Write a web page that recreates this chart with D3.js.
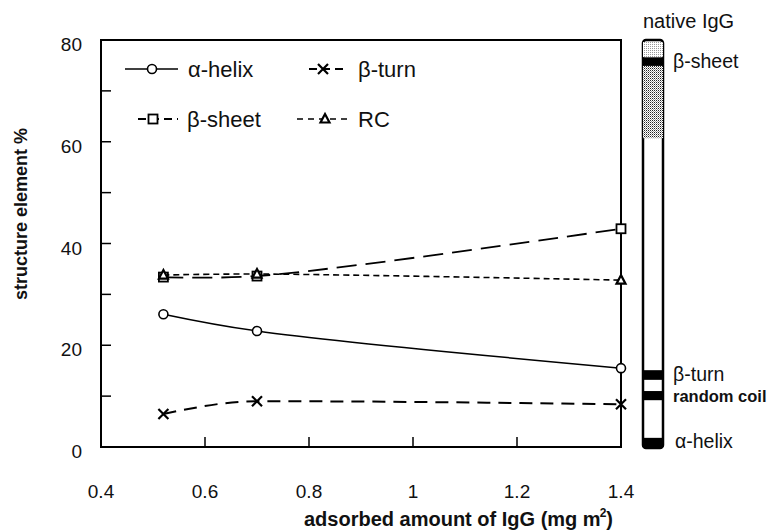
<!DOCTYPE html>
<html><head><meta charset="utf-8">
<script src="https://cdn.jsdelivr.net/npm/d3@7"></script>
<style>body{margin:0;background:#fff} svg{display:block;font-family:"Liberation Sans",Arial,sans-serif}</style>
</head><body><svg id="c" width="773" height="530"></svg>
<script>
// ---- data ----
const xValues = [0.52, 0.70, 1.40];
const alphaHelix = [26.1, 22.8, 15.5];
const betaTurn = [6.5, 9.0, 8.4];
const betaSheet = [33.4, 33.6, 42.9];
const randomCoil = [33.8, 34.0, 32.8];
const seriesNames = ["α-helix", "β-turn", "β-sheet", "RC"];
const xTicks = [0.4, 0.6, 0.8, 1, 1.2, 1.4];
const xTickLabels = ["0.4", "0.6", "0.8", "1", "1.2", "1.4"];
const yTicks = [0, 10, 20, 30, 40, 50, 60, 70, 80];
const yTickLabels = [0, 20, 40, 60, 80];
// native IgG column (same % scale)
const nativeBandNames = ["top", "β-sheet", "sheet", "β-turn", "random coil", "α-helix"];
const nativeBandFrom = [76.6, 74.9, 60.7, 13.2, 9.2, 0];
const nativeBandTo = [79.6, 76.6, 74.9, 15.1, 11.0, 1.8];
const nativeLabelNames = ["β-sheet", "β-turn", "random coil", "α-helix"];
const nativeTitle = "native IgG";
const xTitle = "adsorbed amount of IgG (mg m";
const xTitleSup = "2";
const yTitle = "structure element  %";

// ---- layout ----
const svg = d3.select("#c");
const L = 101, R = 621, T = 40, B = 447;
const x = d3.scaleLinear().domain([0.4, 1.4]).range([L, R]);
const y = d3.scaleLinear().domain([0, 80]).range([B, T]);

const defs = svg.append("defs");
const p1 = defs.append("pattern").attr("id", "stipDark").attr("width", 2).attr("height", 2).attr("patternUnits", "userSpaceOnUse");
p1.append("rect").attr("width", 2).attr("height", 2).attr("fill", "#fff");
p1.append("rect").attr("width", 1).attr("height", 1).attr("fill", "#222");
p1.append("rect").attr("x", 1).attr("y", 1).attr("width", 1).attr("height", 1).attr("fill", "#999");
const p2 = defs.append("pattern").attr("id", "stipLight").attr("width", 2).attr("height", 2).attr("patternUnits", "userSpaceOnUse");
p2.append("rect").attr("width", 2).attr("height", 2).attr("fill", "#fff");
p2.append("rect").attr("width", 1).attr("height", 1).attr("fill", "#999");

// frame
svg.append("rect").attr("x", L).attr("y", T).attr("width", R - L).attr("height", B - T)
  .attr("fill", "none").attr("stroke", "#000").attr("stroke-width", 2);

// y ticks (inward)
svg.append("g").selectAll("line").data(yTicks.filter(d => d > 0 && d < 80)).join("line")
  .attr("x1", L).attr("x2", L + 10).attr("y1", d => y(d)).attr("y2", d => y(d))
  .attr("stroke", "#000").attr("stroke-width", 1.5);
svg.append("g").selectAll("text").data(yTickLabels).join("text")
  .attr("x", 82).attr("y", d => y(d) + 11).attr("text-anchor", "end")
  .attr("font-size", 19).attr("fill", "#111").text(d => d);

// x ticks (inward)
svg.append("g").selectAll("line").data(xTicks.filter(d => d > 0.4 && d < 1.4)).join("line")
  .attr("x1", d => x(d)).attr("x2", d => x(d)).attr("y1", B).attr("y2", B - 10)
  .attr("stroke", "#000").attr("stroke-width", 1.5);
svg.append("g").selectAll("text").data(xTicks).join("text")
  .attr("x", d => x(d)).attr("y", 498).attr("text-anchor", "middle")
  .attr("font-size", 19).attr("fill", "#111").text((d, i) => xTickLabels[i]);

// axis titles
const xt = svg.append("text").attr("x", 613).attr("y", 526).attr("text-anchor", "end")
  .attr("font-size", 20).attr("font-weight", "bold").attr("fill", "#111");
xt.append("tspan").text(xTitle);
xt.append("tspan").attr("dx", -1).attr("dy", -9).attr("font-size", 12).text(xTitleSup);
xt.append("tspan").attr("dy", 9).text(")");
svg.append("text").attr("transform", "translate(27,214) rotate(-90)").attr("text-anchor", "middle")
  .attr("font-size", 18).attr("font-weight", "bold").attr("fill", "#111").text(yTitle);

// series
const series = [
  {name: seriesNames[0], vals: alphaHelix, dash: null, w: 1.5, marker: "circle", curve: d3.curveCatmullRom},
  {name: seriesNames[1], vals: betaTurn, dash: "13,8", w: 2, marker: "x", curve: d3.curveMonotoneX},
  {name: seriesNames[2], vals: betaSheet, dash: "20,9", w: 1.8, marker: "square", curve: d3.curveCatmullRom},
  {name: seriesNames[3], vals: randomCoil, dash: "6,4", w: 1.6, marker: "tri", curve: d3.curveCatmullRom}
];

function marker(g, type, cx, cy) {
  if (type === "circle") {
    g.append("circle").attr("cx", cx).attr("cy", cy).attr("r", 4.5)
      .attr("fill", "#fff").attr("stroke", "#000").attr("stroke-width", 1.6);
  } else if (type === "x") {
    g.append("path").attr("d", `M${cx-5},${cy-5}L${cx+5},${cy+5}M${cx-5},${cy+5}L${cx+5},${cy-5}`)
      .attr("stroke", "#000").attr("stroke-width", 2.2).attr("fill", "none");
  } else if (type === "square") {
    g.append("rect").attr("x", cx - 4.5).attr("y", cy - 4.5).attr("width", 9).attr("height", 9)
      .attr("fill", "#fff").attr("stroke", "#000").attr("stroke-width", 1.8);
  } else if (type === "tri") {
    g.append("path").attr("d", `M${cx},${cy-5}L${cx+4.5},${cy+3.5}L${cx-4.5},${cy+3.5}Z`)
      .attr("fill", "#fff").attr("stroke", "#000").attr("stroke-width", 2.2);
  }
}

const plot = svg.append("g");
series.forEach(s => {
  const pts = xValues.map((xv, i) => [xv, s.vals[i]]);
  plot.append("path").datum(pts)
    .attr("d", d3.line().x(d => x(d[0])).y(d => y(d[1])).curve(s.curve))
    .attr("fill", "none").attr("stroke", "#000").attr("stroke-width", s.w)
    .attr("stroke-dasharray", s.dash);
});
series.forEach(s => {
  xValues.forEach((xv, i) => marker(plot, s.marker, x(xv), y(s.vals[i])));
});

// legend
const legendPos = [
  {x1: 125, x2: 178, mx: 152, y: 69, tx: 188},
  {x1: 309, x2: 348, mx: 323, y: 69, tx: 358},
  {x1: 138, x2: 178, mx: 153, y: 119, tx: 187},
  {x1: 297, x2: 352, mx: 325, y: 119, tx: 358}
];
const lg = svg.append("g");
series.forEach((s, i) => {
  const p = legendPos[i];
  lg.append("line").attr("x1", p.x1).attr("x2", p.x2).attr("y1", p.y).attr("y2", p.y)
    .attr("stroke", "#000").attr("stroke-width", s.w)
    .attr("stroke-dasharray", s.dash ? (s.marker === "tri" ? "6,5" : "8,5") : null);
  marker(lg, s.marker, p.mx, p.y);
  lg.append("text").attr("x", p.tx).attr("y", p.y + 8).attr("font-size", 22).attr("fill", "#111").text(s.name);
});

// native IgG column
const bx = 643, bw = 20;
const col = svg.append("g");
col.append("text").attr("x", 643).attr("y", 28).attr("font-size", 20).attr("fill", "#111").text(nativeTitle);
col.append("rect").attr("x", bx).attr("y", y(80)).attr("width", bw).attr("height", y(0) - y(80) + 1)
  .attr("rx", 3).attr("fill", "#fff").attr("stroke", "#000").attr("stroke-width", 2.5);
const bandFill = n => n === "top" ? "url(#stipLight)" : n === "sheet" ? "url(#stipDark)" : "#000";
nativeBandNames.forEach((n, i) => {
  col.append("rect").attr("x", bx).attr("width", bw)
    .attr("y", y(nativeBandTo[i])).attr("height", y(nativeBandFrom[i]) - y(nativeBandTo[i]))
    .attr("fill", bandFill(n));
});
nativeLabelNames.forEach(n => {
  const i = nativeBandNames.indexOf(n);
  const cy = (y(nativeBandFrom[i]) + y(nativeBandTo[i])) / 2;
  col.append("text").attr("x", n === "α-helix" ? 675 : 673).attr("y", cy + 6)
    .attr("font-size", n === "random coil" ? 16.5 : 19.5)
    .attr("font-weight", n === "random coil" ? "bold" : "normal")
    .attr("fill", "#111").text(n);
});
</script></body></html>
